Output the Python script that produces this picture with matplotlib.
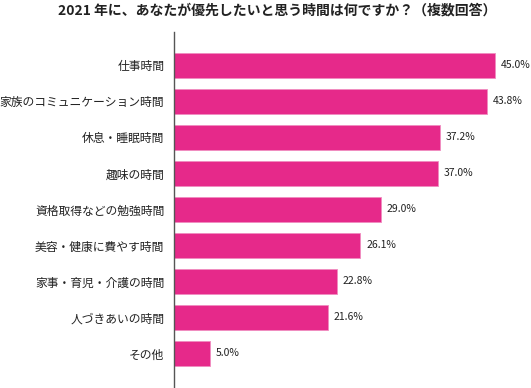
import matplotlib.pyplot as plt

plt.rcParams['font.family'] = ['Noto Sans CJK JP', 'DejaVu Sans']

# 項目と割合（%）
categories = ['仕事時間', '家族のコミュニケーション時間', '休息・睡眠時間', '趣味の時間',
              '資格取得などの勉強時間', '美容・健康に費やす時間', '家事・育児・介護の時間',
              '人づきあいの時間', 'その他']
values = [45.0, 43.8, 37.2, 37.0, 29.0, 26.1, 22.8, 21.6, 5.0]

fig = plt.figure(figsize=(5.31, 3.88), dpi=100)
ax = fig.add_axes([174 / 531, 0, 1 - 174 / 531, 356 / 388])

pos = list(range(len(categories)))
ax.barh(pos, values, height=0.7, color='#E6298A', edgecolor='#F08CC0', linewidth=0.6)
for p, v in zip(pos, values):
    ax.text(v + 0.8, p, f'{v:.1f}%', va='center', ha='left', fontsize=7.5, color='#222222')

ax.set_xlim(0, 50)
ax.set_ylim(8.96, -0.93)
ax.set_yticks(pos)
ax.set_yticklabels(categories, fontsize=8.5, color='#222222')
ax.tick_params(axis='y', length=0, pad=7)
ax.set_xticks([])
for s in ['top', 'right', 'bottom']:
    ax.spines[s].set_visible(False)
ax.spines['left'].set_color('#555555')
ax.spines['left'].set_linewidth(1.0)

fig.text(277 / 531, 1 - 11 / 388, '2021 年に、あなたが優先したいと思う時間は何ですか？（複数回答）',
         ha='center', va='center', fontsize=10, fontweight='bold', color='#222222')

fig.savefig('out.png', dpi=100)
